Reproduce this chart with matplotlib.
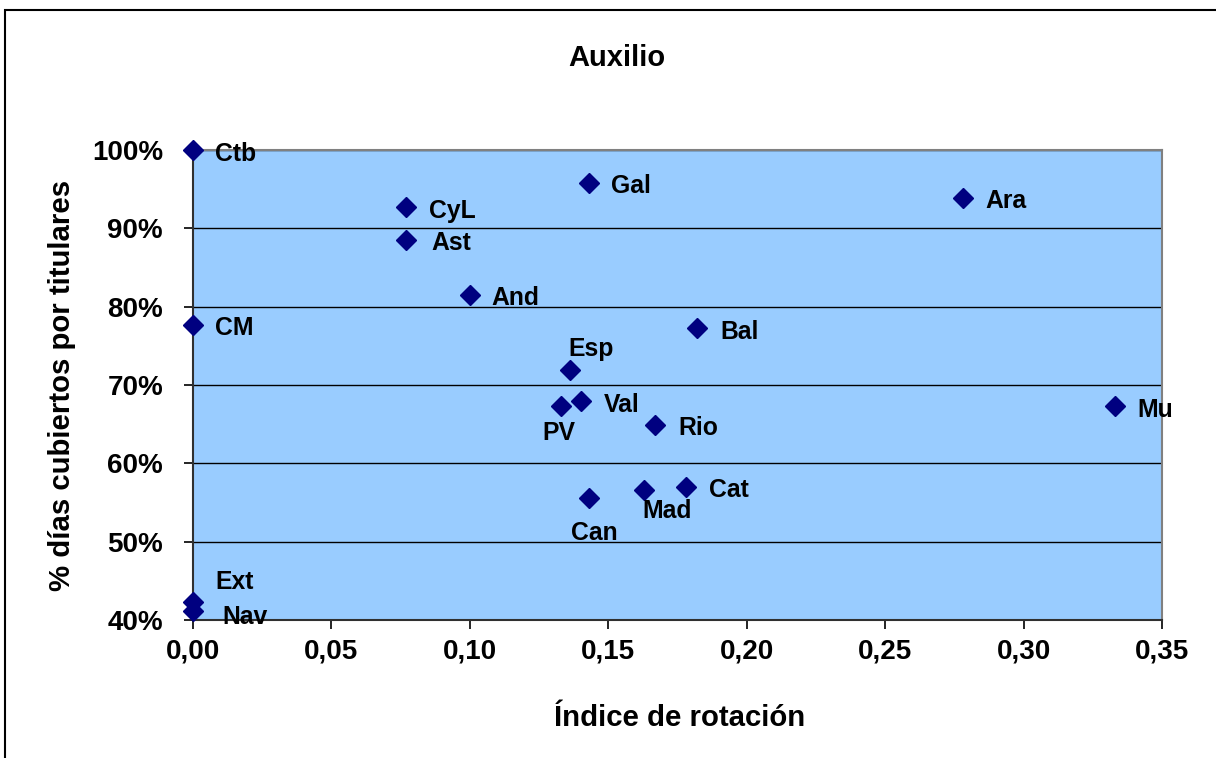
import matplotlib.pyplot as plt
from matplotlib.patches import Rectangle
from matplotlib.ticker import FuncFormatter, MultipleLocator

# datos: comunidad, indice de rotacion, % dias cubiertos por titulares
comunidades = ['Ctb', 'Gal', 'Ara', 'CyL', 'Ast', 'And', 'CM', 'Bal', 'Esp',
               'Val', 'PV', 'Rio', 'Mu', 'Cat', 'Mad', 'Can', 'Ext', 'Nav']
rotacion = [0.000, 0.143, 0.278, 0.077, 0.077, 0.100, 0.000, 0.182, 0.136,
            0.140, 0.133, 0.167, 0.333, 0.178, 0.163, 0.143, 0.000, 0.000]
cubiertos = [1.000, 0.958, 0.939, 0.927, 0.885, 0.815, 0.776, 0.773, 0.719,
             0.679, 0.673, 0.649, 0.673, 0.570, 0.566, 0.556, 0.423, 0.411]

# desplazamiento de las etiquetas (pixeles)
desp = {'Ctb': (22, -4), 'Gal': (22, -3), 'Ara': (23, -3), 'CyL': (23, -4),
        'Ast': (25, -3), 'And': (22, -3), 'CM': (22, -3), 'Bal': (23, -4),
        'Esp': (-1, 21), 'Val': (23, -4), 'PV': (-19, -27), 'Rio': (23, -3),
        'Mu': (22, -4), 'Cat': (23, -3), 'Mad': (-2, -21), 'Can': (-18, -35),
        'Ext': (22, 20), 'Nav': (29, -6)}

plt.rcParams['font.family'] = ['Liberation Sans', 'DejaVu Sans']
plt.rcParams['font.weight'] = 'bold'

fig = plt.figure(figsize=(12.16, 7.58), dpi=100)
ax = fig.add_axes([0.1587, 0.182, 0.7969, 0.6201])
ax.set_facecolor('#99CCFF')

ax.plot(rotacion, cubiertos, linestyle='none', marker='D', markersize=10,
        color='#000080', zorder=5, clip_on=False)

for nom, x, y in zip(comunidades, rotacion, cubiertos):
    dx, dy = desp[nom]
    ax.annotate(nom, (x, y), xytext=(dx, dy), textcoords='offset pixels',
                ha='left', va='center', fontsize=17.8, fontweight='bold',
                annotation_clip=False, zorder=6)

ax.set_xlim(0, 0.35)
ax.set_ylim(0.4, 1.0)
ax.xaxis.set_major_locator(MultipleLocator(0.05))
ax.yaxis.set_major_locator(MultipleLocator(0.1))
ax.xaxis.set_major_formatter(FuncFormatter(lambda v, p: f'{v:.2f}'.replace('.', ',')))
ax.yaxis.set_major_formatter(FuncFormatter(lambda v, p: f'{v*100:.0f}%'))
ax.tick_params(axis='x', direction='out', length=6.5, width=1.2, labelsize=20, pad=6.5)
ax.tick_params(axis='y', direction='out', length=6.5, width=1.2, labelsize=20, pad=15)
for lab in ax.get_xticklabels() + ax.get_yticklabels():
    lab.set_fontweight('bold')

ax.grid(axis='y', color='black', linewidth=1)
ax.set_axisbelow(True)
for s in ['top', 'right']:
    ax.spines[s].set_color('#808080')
    ax.spines[s].set_linewidth(1.5)
for s in ['left', 'bottom']:
    ax.spines[s].set_color('#303030')
    ax.spines[s].set_linewidth(1.5)

fig.text(0.507, 0.9129, 'Auxilio', ha='center', va='baseline', fontsize=21,
         fontweight='bold')
fig.text(0.559, 0.053, 'Índice de rotación', ha='center', va='center',
         fontsize=21.2, fontweight='bold')
fig.text(0.051, 0.492, '% días cubiertos por titulares', ha='center', va='center',
         fontsize=21.2, fontweight='bold', rotation=90)

# borde del grafico
fig.patches.append(Rectangle((0.004, -0.05), 1.1, 1.037, transform=fig.transFigure,
                             fill=False, edgecolor='black', linewidth=1.5))

fig.savefig('out.png', dpi=100)
